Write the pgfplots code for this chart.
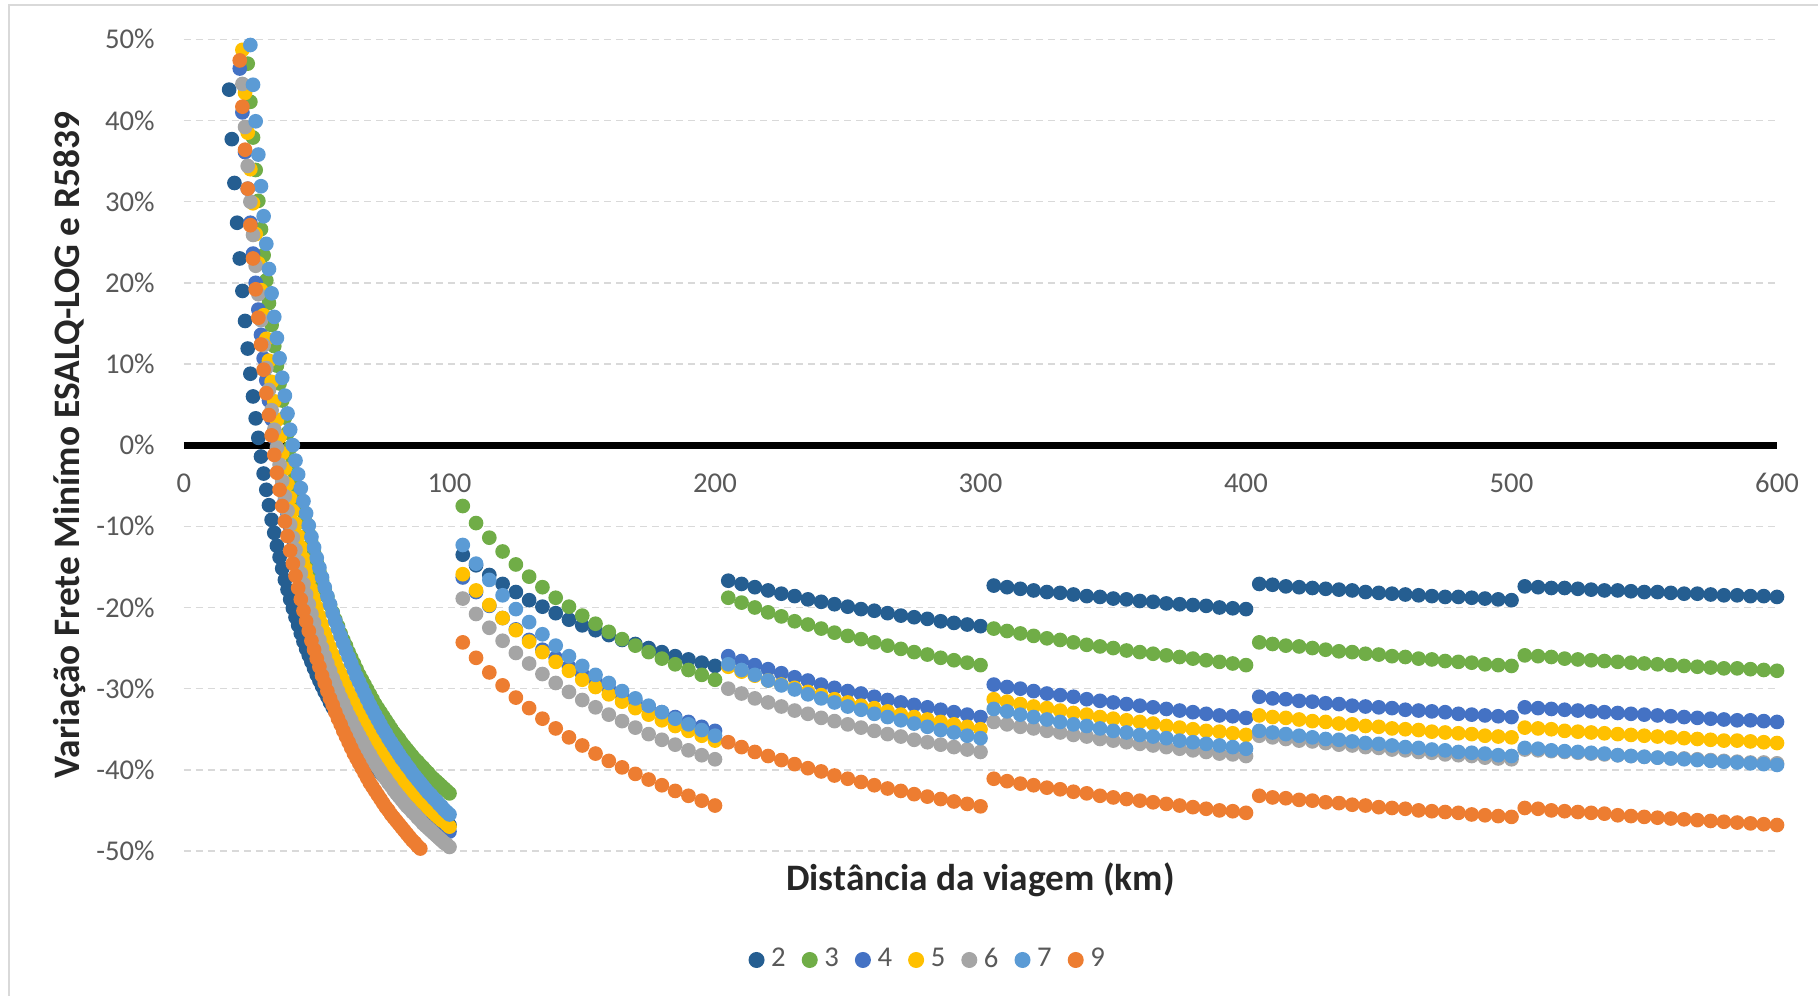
\documentclass[border=0pt]{standalone}
\usepackage{fontspec}
\setmainfont{Carlito}
\usepackage{pgfplots}
\usepackage{pgfplotstable}
\pgfplotsset{compat=1.18}
\definecolor{c2}{HTML}{255E91}
\definecolor{c3}{HTML}{70AD47}
\definecolor{c4}{HTML}{4472C4}
\definecolor{c5}{HTML}{FFC000}
\definecolor{c6}{HTML}{A5A5A5}
\definecolor{c7}{HTML}{5B9BD5}
\definecolor{c9}{HTML}{ED7D31}
\definecolor{tickc}{HTML}{595959}
\definecolor{gridc}{HTML}{D9D9D9}
\definecolor{titlec}{HTML}{262626}

\pgfplotstableread{
d s2 s3 s4 s5 s6 s7 s9
17 43.8 nan nan nan nan nan nan
18 37.7 nan nan nan nan nan nan
19 32.3 nan nan nan nan nan nan
20 27.4 nan nan nan nan nan nan
21 23.0 nan 46.4 nan nan nan 47.4
22 19.0 nan 41.0 48.7 44.5 nan 41.7
23 15.3 nan 36.1 43.4 39.2 nan 36.4
24 11.9 47.0 31.6 38.5 34.4 nan 31.6
25 8.8 42.3 27.4 34.0 30.0 49.3 27.1
26 6.0 37.9 23.6 29.8 25.9 44.4 23.0
27 3.3 33.9 20.0 26.0 22.1 39.9 19.2
28 0.9 30.1 16.7 22.4 18.6 35.8 15.7
29 -1.4 26.6 13.6 19.1 15.4 31.9 12.4
30 -3.5 23.4 10.7 16.0 12.3 28.2 9.3
31 -5.5 20.3 8.0 13.1 9.5 24.8 6.4
32 -7.4 17.5 5.5 10.4 6.8 21.7 3.7
33 -9.2 14.8 3.2 7.8 4.3 18.7 1.2
34 -10.8 12.2 0.9 5.4 1.9 15.8 -1.2
35 -12.4 9.8 -1.2 3.1 -0.3 13.2 -3.4
36 -13.8 7.6 -3.2 1.0 -2.4 10.7 -5.5
37 -15.2 5.5 -5.0 -1.0 -4.4 8.3 -7.5
38 -16.6 3.4 -6.8 -2.9 -6.3 6.1 -9.4
39 -17.8 1.5 -8.5 -4.8 -8.1 3.9 -11.2
40 -19.0 -0.3 -10.1 -6.5 -9.8 1.9 -13.0
41 -20.1 -2.0 -11.6 -8.1 -11.4 0.0 -14.6
42 -21.2 -3.7 -13.1 -9.7 -12.9 -1.9 -16.1
43 -22.2 -5.3 -14.5 -11.2 -14.4 -3.6 -17.6
44 -23.2 -6.8 -15.8 -12.6 -15.8 -5.3 -19.0
45 -24.2 -8.2 -17.0 -14.0 -17.1 -6.9 -20.4
46 -25.1 -9.6 -18.3 -15.3 -18.4 -8.4 -21.7
47 -25.9 -10.9 -19.4 -16.6 -19.6 -9.9 -22.9
48 -26.7 -12.1 -20.5 -17.8 -20.8 -11.3 -24.1
49 -27.5 -13.3 -21.6 -18.9 -21.9 -12.6 -25.2
50 -28.3 -14.5 -22.6 -20.0 -23.0 -13.9 -26.3
51 -29.0 -15.6 -23.6 -21.1 -24.0 -15.1 -27.3
52 -29.7 -16.7 -24.5 -22.1 -25.0 -16.3 -28.4
53 -30.4 -17.7 -25.4 -23.1 -26.0 -17.5 -29.3
54 -31.0 -18.7 -26.3 -24.0 -26.9 -18.6 -30.3
55 -31.7 -19.7 -27.1 -24.9 -27.8 -19.6 -31.2
56 -32.3 -20.6 -28.0 -25.8 -28.7 -20.7 -32.0
57 -32.8 -21.5 -28.7 -26.6 -29.5 -21.7 -32.9
58 -33.4 -22.3 -29.5 -27.5 -30.3 -22.6 -33.7
59 -33.9 -23.2 -30.2 -28.2 -31.1 -23.5 -34.4
60 -34.5 -24.0 -30.9 -29.0 -31.8 -24.4 -35.2
61 -35.0 -24.7 -31.6 -29.7 -32.6 -25.3 -35.9
62 -35.5 -25.5 -32.3 -30.5 -33.3 -26.1 -36.6
63 -35.9 -26.2 -32.9 -31.1 -33.9 -26.9 -37.3
64 -36.4 -26.9 -33.5 -31.8 -34.6 -27.7 -38.0
65 -36.8 -27.6 -34.1 -32.5 -35.2 -28.5 -38.6
66 -37.3 -28.3 -34.7 -33.1 -35.8 -29.2 -39.2
67 -37.7 -28.9 -35.3 -33.7 -36.4 -29.9 -39.8
68 -38.1 -29.5 -35.8 -34.3 -37.0 -30.6 -40.4
69 -38.5 -30.1 -36.4 -34.9 -37.6 -31.3 -41.0
70 -38.9 -30.7 -36.9 -35.4 -38.1 -32.0 -41.6
71 -39.3 -31.3 -37.4 -36.0 -38.7 -32.6 -42.1
72 -39.6 -31.9 -37.9 -36.5 -39.2 -33.2 -42.6
73 -40.0 -32.4 -38.4 -37.0 -39.7 -33.8 -43.1
74 -40.3 -32.9 -38.8 -37.5 -40.2 -34.4 -43.6
75 -40.7 -33.4 -39.3 -38.0 -40.7 -35.0 -44.1
76 -41.0 -33.9 -39.7 -38.5 -41.1 -35.5 -44.6
77 -41.3 -34.4 -40.1 -38.9 -41.6 -36.1 -45.0
78 -41.6 -34.9 -40.5 -39.4 -42.0 -36.6 -45.5
79 -41.9 -35.4 -41.0 -39.8 -42.5 -37.1 -45.9
80 -42.2 -35.8 -41.4 -40.3 -42.9 -37.6 -46.3
81 -42.5 -36.2 -41.7 -40.7 -43.3 -38.1 -46.7
82 -42.8 -36.7 -42.1 -41.1 -43.7 -38.6 -47.1
83 -43.0 -37.1 -42.5 -41.5 -44.1 -39.0 -47.5
84 -43.3 -37.5 -42.8 -41.9 -44.5 -39.5 -47.9
85 -43.6 -37.9 -43.2 -42.2 -44.8 -39.9 -48.3
86 -43.8 -38.3 -43.5 -42.6 -45.2 -40.4 -48.7
87 -44.1 -38.7 -43.9 -43.0 -45.5 -40.8 -49.0
88 -44.3 -39.0 -44.2 -43.3 -45.9 -41.2 -49.4
89 -44.5 -39.4 -44.5 -43.7 -46.2 -41.6 -49.7
90 -44.8 -39.7 -44.8 -44.0 -46.6 -42.0 nan
91 -45.0 -40.1 -45.1 -44.3 -46.9 -42.4 nan
92 -45.2 -40.4 -45.4 -44.7 -47.2 -42.8 nan
93 -45.4 -40.8 -45.7 -45.0 -47.5 -43.1 nan
94 -45.7 -41.1 -46.0 -45.3 -47.8 -43.5 nan
95 -45.9 -41.4 -46.3 -45.6 -48.1 -43.8 nan
96 -46.1 -41.7 -46.6 -45.9 -48.4 -44.2 nan
97 -46.3 -42.0 -46.8 -46.2 -48.7 -44.5 nan
98 -46.5 -42.3 -47.1 -46.4 -49.0 -44.9 nan
99 -46.7 -42.6 -47.3 -46.7 -49.2 -45.2 nan
100 -46.8 -42.9 -47.6 -47.0 -49.5 -45.5 nan
105 -13.5 -7.5 -16.3 -15.9 -18.9 -12.3 -24.3
110 -14.8 -9.6 -18.1 -17.9 -20.8 -14.6 -26.2
115 -16.0 -11.4 -19.8 -19.7 -22.5 -16.6 -28.0
120 -17.1 -13.1 -21.3 -21.3 -24.1 -18.5 -29.6
125 -18.1 -14.7 -22.7 -22.8 -25.6 -20.2 -31.1
130 -19.1 -16.2 -24.0 -24.2 -26.9 -21.8 -32.4
135 -19.9 -17.5 -25.2 -25.5 -28.2 -23.3 -33.7
140 -20.7 -18.8 -26.2 -26.7 -29.3 -24.7 -34.9
145 -21.5 -19.9 -27.3 -27.8 -30.4 -26.0 -36.0
150 -22.2 -21.0 -28.2 -28.9 -31.4 -27.2 -37.0
155 -22.8 -22.0 -29.1 -29.8 -32.3 -28.3 -38.0
160 -23.4 -23.0 -30.0 -30.7 -33.2 -29.3 -38.9
165 -24.0 -23.9 -30.8 -31.6 -34.0 -30.3 -39.7
170 -24.5 -24.7 -31.5 -32.4 -34.8 -31.2 -40.5
175 -25.0 -25.5 -32.2 -33.2 -35.6 -32.1 -41.2
180 -25.5 -26.3 -32.9 -33.9 -36.3 -32.9 -41.9
185 -26.0 -27.0 -33.5 -34.6 -36.9 -33.7 -42.6
190 -26.4 -27.7 -34.1 -35.2 -37.6 -34.4 -43.2
195 -26.8 -28.3 -34.7 -35.8 -38.2 -35.1 -43.8
200 -27.2 -28.9 -35.2 -36.4 -38.7 -35.8 -44.4
205 -16.7 -18.8 -26.0 -27.3 -30.0 -27.0 -36.6
210 -17.1 -19.4 -26.6 -27.9 -30.6 -27.7 -37.2
215 -17.5 -20.0 -27.1 -28.4 -31.2 -28.3 -37.8
220 -17.9 -20.6 -27.6 -29.0 -31.7 -29.0 -38.3
225 -18.3 -21.1 -28.1 -29.5 -32.2 -29.6 -38.8
230 -18.6 -21.7 -28.6 -29.9 -32.7 -30.1 -39.3
235 -19.0 -22.1 -29.0 -30.4 -33.1 -30.7 -39.8
240 -19.3 -22.6 -29.5 -30.8 -33.6 -31.2 -40.2
245 -19.6 -23.1 -29.9 -31.3 -34.0 -31.7 -40.7
250 -19.9 -23.5 -30.3 -31.7 -34.4 -32.2 -41.1
255 -20.2 -23.9 -30.6 -32.1 -34.8 -32.6 -41.5
260 -20.4 -24.3 -31.0 -32.4 -35.2 -33.1 -41.9
265 -20.7 -24.7 -31.4 -32.8 -35.6 -33.5 -42.3
270 -21.0 -25.1 -31.7 -33.2 -35.9 -33.9 -42.6
275 -21.2 -25.5 -32.0 -33.5 -36.3 -34.3 -43.0
280 -21.4 -25.8 -32.3 -33.8 -36.6 -34.7 -43.3
285 -21.7 -26.2 -32.6 -34.1 -36.9 -35.1 -43.6
290 -21.9 -26.5 -32.9 -34.4 -37.2 -35.4 -43.9
295 -22.1 -26.8 -33.2 -34.7 -37.5 -35.8 -44.2
300 -22.3 -27.1 -33.5 -35.0 -37.8 -36.1 -44.5
305 -17.3 -22.6 -29.5 -31.3 -34.1 -32.5 -41.1
310 -17.5 -22.9 -29.8 -31.6 -34.4 -32.8 -41.4
315 -17.7 -23.2 -30.0 -31.9 -34.7 -33.2 -41.7
320 -17.9 -23.5 -30.3 -32.2 -34.9 -33.5 -41.9
325 -18.1 -23.8 -30.6 -32.4 -35.2 -33.8 -42.2
330 -18.2 -24.0 -30.8 -32.7 -35.4 -34.1 -42.4
335 -18.4 -24.3 -31.0 -33.0 -35.7 -34.4 -42.7
340 -18.6 -24.6 -31.3 -33.2 -35.9 -34.6 -42.9
345 -18.7 -24.8 -31.5 -33.5 -36.2 -34.9 -43.2
350 -18.9 -25.0 -31.7 -33.7 -36.4 -35.2 -43.4
355 -19.0 -25.3 -31.9 -33.9 -36.6 -35.4 -43.6
360 -19.2 -25.5 -32.1 -34.1 -36.8 -35.7 -43.8
365 -19.3 -25.7 -32.3 -34.3 -37.0 -35.9 -44.0
370 -19.5 -25.9 -32.5 -34.6 -37.2 -36.1 -44.2
375 -19.6 -26.1 -32.7 -34.8 -37.4 -36.4 -44.4
380 -19.7 -26.3 -32.9 -35.0 -37.6 -36.6 -44.6
385 -19.8 -26.5 -33.1 -35.2 -37.8 -36.8 -44.8
390 -20.0 -26.7 -33.3 -35.3 -38.0 -37.0 -45.0
395 -20.1 -26.9 -33.4 -35.5 -38.1 -37.2 -45.1
400 -20.2 -27.1 -33.6 -35.7 -38.3 -37.4 -45.3
405 -17.1 -24.3 -31.0 -33.3 -35.8 -35.2 -43.2
410 -17.2 -24.5 -31.2 -33.5 -36.0 -35.4 -43.4
415 -17.4 -24.7 -31.3 -33.6 -36.2 -35.6 -43.5
420 -17.5 -24.8 -31.5 -33.8 -36.4 -35.8 -43.7
425 -17.6 -25.0 -31.6 -34.0 -36.5 -36.0 -43.8
430 -17.7 -25.2 -31.8 -34.1 -36.7 -36.2 -44.0
435 -17.8 -25.4 -31.9 -34.3 -36.9 -36.3 -44.1
440 -17.9 -25.5 -32.1 -34.4 -37.0 -36.5 -44.3
445 -18.1 -25.7 -32.2 -34.6 -37.2 -36.7 -44.4
450 -18.2 -25.8 -32.3 -34.7 -37.3 -36.8 -44.6
455 -18.3 -26.0 -32.4 -34.9 -37.5 -37.0 -44.7
460 -18.4 -26.1 -32.6 -35.0 -37.6 -37.2 -44.8
465 -18.5 -26.3 -32.7 -35.1 -37.8 -37.3 -45.0
470 -18.6 -26.4 -32.8 -35.3 -37.9 -37.5 -45.1
475 -18.7 -26.6 -32.9 -35.4 -38.1 -37.6 -45.2
480 -18.7 -26.7 -33.1 -35.5 -38.2 -37.8 -45.3
485 -18.8 -26.8 -33.2 -35.6 -38.3 -37.9 -45.5
490 -18.9 -27.0 -33.3 -35.8 -38.5 -38.0 -45.6
495 -19.0 -27.1 -33.4 -35.9 -38.6 -38.2 -45.7
500 -19.1 -27.2 -33.5 -36.0 -38.7 -38.3 -45.8
505 -17.4 -25.9 -32.3 -34.8 -37.5 -37.3 -44.7
510 -17.5 -26.0 -32.4 -34.9 -37.6 -37.4 -44.8
515 -17.6 -26.1 -32.5 -35.0 -37.7 -37.6 -45.0
520 -17.6 -26.3 -32.6 -35.2 -37.8 -37.7 -45.1
525 -17.7 -26.4 -32.7 -35.3 -37.9 -37.8 -45.2
530 -17.8 -26.5 -32.8 -35.4 -38.0 -37.9 -45.3
535 -17.9 -26.6 -32.9 -35.5 -38.1 -38.0 -45.4
540 -17.9 -26.7 -33.0 -35.6 -38.2 -38.2 -45.6
545 -18.0 -26.8 -33.1 -35.7 -38.3 -38.3 -45.7
550 -18.1 -26.9 -33.2 -35.8 -38.4 -38.4 -45.8
555 -18.1 -27.0 -33.3 -35.9 -38.5 -38.5 -45.9
560 -18.2 -27.1 -33.4 -36.0 -38.6 -38.6 -46.0
565 -18.3 -27.2 -33.5 -36.1 -38.6 -38.7 -46.1
570 -18.3 -27.3 -33.6 -36.2 -38.7 -38.8 -46.2
575 -18.4 -27.4 -33.7 -36.3 -38.8 -38.9 -46.3
580 -18.5 -27.5 -33.8 -36.4 -38.9 -39.0 -46.4
585 -18.5 -27.5 -33.9 -36.4 -39.0 -39.1 -46.5
590 -18.6 -27.6 -33.9 -36.5 -39.1 -39.2 -46.6
595 -18.6 -27.7 -34.0 -36.6 -39.1 -39.3 -46.7
600 -18.7 -27.8 -34.1 -36.7 -39.2 -39.4 -46.8
}\data

\begin{document}
\begin{tikzpicture}
\useasboundingbox (-55.2pt,-43.5pt) rectangle (490.2pt,255.3pt);
\draw[gridc, line width=0.6pt] (-52.5pt,-43.5pt) -- (-52.5pt,253.8pt) -- (490.2pt,253.8pt);
\begin{axis}[
  at={(0pt,0pt)}, anchor=south west,
  scale only axis, width=477.9pt, height=243.5pt,
  xmin=0, xmax=600, ymin=-50, ymax=50,
  axis x line=middle, axis y line=left,
  x axis line style={-, line width=2.1pt, black},
  y axis line style={draw=none},
  major tick length=0pt,
  hide obscured x ticks=false, hide obscured y ticks=false,
  xtick={0,100,200,300,400,500,600},
  xticklabels={0,100,200,300,400,500,600},
  ytick={-50,-40,-30,-20,-10,0,10,20,30,40,50},
  yticklabels={-50\%,-40\%,-30\%,-20\%,-10\%,0\%,10\%,20\%,30\%,40\%,50\%},
  ticklabel style={font=\fontsize{8.6}{10}\selectfont, text=tickc},
  xticklabel style={anchor=center, yshift=-11.4pt},
  yticklabel style={anchor=east, inner sep=0pt, xshift=-8.6pt},
  ymajorgrids,
  grid style={gridc, line width=0.45pt, dash pattern=on 2.2pt off 1.4pt},
  clip=false,
  legend style={at={(0.4675,-0.1343)}, anchor=center, draw=none, fill=none,
    legend columns=-1, font=\fontsize{8.6}{10}\selectfont, text=tickc,
    nodes={inner sep=1pt},
    /tikz/every odd column/.append style={column sep=1.2pt},
    /tikz/every even column/.append style={column sep=4pt}},
  legend image code/.code={\draw[#1, mark size=2.2pt] plot coordinates {(0pt,0pt)};},
]
\addplot[only marks, mark=*, mark size=2pt, color=c2] table[x=d, y=s2] {\data};
\addplot[only marks, mark=*, mark size=2pt, color=c3] table[x=d, y=s3] {\data};
\addplot[only marks, mark=*, mark size=2pt, color=c4] table[x=d, y=s4] {\data};
\addplot[only marks, mark=*, mark size=2pt, color=c5] table[x=d, y=s5] {\data};
\addplot[only marks, mark=*, mark size=2pt, color=c6] table[x=d, y=s6] {\data};
\addplot[only marks, mark=*, mark size=2pt, color=c7] table[x=d, y=s7] {\data};
\addplot[only marks, mark=*, mark size=2pt, color=c9] table[x=d, y=s9] {\data};
\legend{2,3,4,5,6,7,9}
\node[rotate=90, font=\bfseries\fontsize{11.2}{13}\selectfont, text=titlec] at (rel axis cs:-0.072,0.5) {Variação Frete Minímo ESALQ-LOG e R5839};
\node[font=\bfseries\fontsize{11.2}{13}\selectfont, text=titlec] at (rel axis cs:0.5,-0.0357) {Distância da viagem (km)};
\end{axis}
\end{tikzpicture}
\end{document}
